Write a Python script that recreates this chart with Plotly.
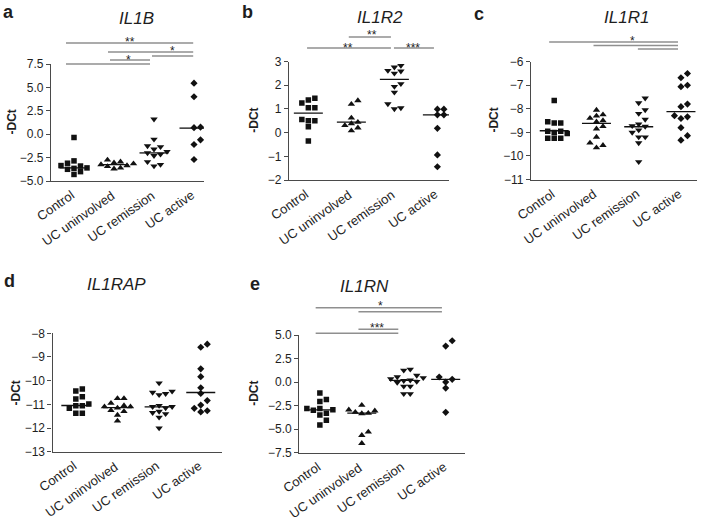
import plotly.graph_objects as go

W, H = 704, 524
FONT = "Liberation Sans, Arial, sans-serif"

CATEGORIES = ["Control", "UC uninvolved", "UC remission", "UC active"]

# ---- data (-DCt values) ----
IL1B_CONTROL = [-0.35, -2.85, -3.1, -3.35, -3.4, -3.6, -3.65, -3.75, -4.0, -4.3]
IL1B_UNINV = [-2.75, -2.95, -3.05, -3.15, -3.25, -3.35, -3.45, -3.6, -3.7]
IL1B_REM = [1.6, -0.55, -1.25, -1.35, -1.6, -1.85, -2.0, -2.15, -2.3, -2.95, -3.25, -3.4]
IL1B_ACTIVE = [5.45, 4.0, 0.7, 0.75, -0.6, -1.1, -2.7]
IL1B_MEDIANS = [-3.6, -3.25, -2.0, 0.65]

IL1R2_CONTROL = [1.45, 1.38, 1.25, 1.05, 1.05, 0.55, 0.5, 0.5, 0.25, -0.35]
IL1R2_UNINV = [1.35, 1.2, 0.62, 0.44, 0.38, 0.3, 0.2, 0.08]
IL1R2_REM = [2.83, 2.76, 2.62, 2.59, 2.5, 2.06, 1.94, 1.7, 1.21, 1.04, 1.0]
IL1R2_ACTIVE = [0.99, 0.99, 0.75, 0.75, 0.18, -0.94, -1.44]
IL1R2_MEDIANS = [0.82, 0.44, 2.25, 0.75]

IL1R1_CONTROL = [-7.65, -8.55, -8.6, -8.6, -8.95, -8.95, -9.0, -9.05, -9.25, -9.25, -9.25]
IL1R1_UNINV = [-8.05, -8.25, -8.3, -8.4, -8.5, -8.55, -8.75, -8.85, -9.2, -9.45, -9.55, -9.65]
IL1R1_REM = [-7.55, -7.75, -8.05, -8.2, -8.45, -8.65, -8.72, -8.75, -8.9, -9.0, -9.2, -9.2, -9.45, -10.25]
IL1R1_ACTIVE = [-6.5, -6.68, -7.0, -7.06, -7.8, -7.91, -8.29, -8.34, -8.41, -8.8, -9.14, -9.33]
IL1R1_MEDIANS = [-8.93, -8.62, -8.76, -8.12]

IL1RAP_CONTROL = [-10.35, -10.44, -10.68, -10.77, -10.99, -11.06, -11.06, -11.17, -11.38, -11.38]
IL1RAP_UNINV = [-10.75, -10.75, -10.95, -11.05, -11.1, -11.1, -11.15, -11.25, -11.3, -11.45, -11.7]
IL1RAP_REM = [-10.1, -10.45, -10.5, -10.55, -10.6, -11.05, -11.1, -11.1, -11.15, -11.3, -11.35, -11.4, -11.55, -12.0]
IL1RAP_ACTIVE = [-8.46, -8.59, -9.5, -9.83, -10.3, -10.54, -10.84, -11.03, -11.17, -11.27, -11.32]
IL1RAP_MEDIANS = [-11.05, -11.14, -11.11, -10.5]

IL1RN_CONTROL = [-1.15, -1.85, -2.05, -2.8, -2.8, -2.95, -3.0, -3.3, -3.5, -4.05, -4.55]
IL1RN_UNINV = [-2.45, -2.95, -3.05, -3.2, -3.3, -3.35, -5.3, -5.65, -6.5]
IL1RN_REM = [1.35, 1.25, 0.7, 0.55, 0.45, 0.35, 0.2, 0.15, 0.05, -0.05, -0.45, -0.45, -1.25, -1.25]
IL1RN_ACTIVE = [4.39, 3.82, 0.54, 0.29, 0.0, -0.64, -3.21]
IL1RN_MEDIANS = [-2.96, -3.29, 0.18, 0.29]

# significance brackets: (from category, to category, pixels above plot top)
IL1B_SIG = [(-0.2, 2.98, 21), (0.85, 2.98, 12), (1.95, 2.98, 8), (0.9, 1.9, 4), (-0.2, 1.9, 0)]
IL1B_STARS = [("**", 1.4, 26), ("*", 2.45, 17), ("*", 1.35, 8)]
IL1R2_SIG = [(0.94, 1.92, 24.5), (-0.03, 1.92, 13.5), (1.99, 2.92, 13.5)]
IL1R2_STARS = [("**", 1.48, 30), ("**", 0.92, 18), ("***", 2.43, 18)]
IL1R1_SIG = [(-0.12, 2.93, 19.7), (0.93, 2.93, 16.2), (1.98, 2.93, 12.7)]
IL1R1_STARS = [("*", 1.86, 25)]
IL1RAP_SIG = []
IL1RAP_STARS = []
IL1RN_SIG = [(-0.1, 2.91, 27.3), (0.92, 2.91, 23.3), (0.92, 1.87, 5.7), (-0.1, 1.87, 1.7)]
IL1RN_STARS = [("*", 1.44, 33), ("***", 1.36, 11)]

# ---- panel layout (pixel boxes) ----
PANELS = [
    dict(name="IL1B", letter="a", groups=[IL1B_CONTROL, IL1B_UNINV, IL1B_REM, IL1B_ACTIVE],
         med=IL1B_MEDIANS, sig=IL1B_SIG, stars=IL1B_STARS,
         box=(51, 204, 64, 181), yr=(-5, 7.5), dt=2.5, fmt=".1f", xr=(-0.575, 3.25),
         title=(136, 18), let=(1, 12), ytitle=11),
    dict(name="IL1R2", letter="b", groups=[IL1R2_CONTROL, IL1R2_UNINV, IL1R2_REM, IL1R2_ACTIVE],
         med=IL1R2_MEDIANS, sig=IL1R2_SIG, stars=IL1R2_STARS,
         box=(289, 449, 61.5, 180), yr=(-2, 3), dt=1, fmt="d", xr=(-0.45, 3.27),
         title=(380, 17), let=(240, 12), ytitle=254),
    dict(name="IL1R1", letter="c", groups=[IL1R1_CONTROL, IL1R1_UNINV, IL1R1_REM, IL1R1_ACTIVE],
         med=IL1R1_MEDIANS, sig=IL1R1_SIG, stars=IL1R1_STARS,
         box=(531, 697, 61.7, 179.5), yr=(-11, -6), dt=1, fmt="d", xr=(-0.55, 3.38),
         title=(626, 17), let=(472, 14), ytitle=494),
    dict(name="IL1RAP", letter="d", groups=[IL1RAP_CONTROL, IL1RAP_UNINV, IL1RAP_REM, IL1RAP_ACTIVE],
         med=IL1RAP_MEDIANS, sig=IL1RAP_SIG, stars=IL1RAP_STARS,
         box=(52.5, 222, 333.3, 451.7), yr=(-13, -8), dt=1, fmt="d", xr=(-0.56, 3.51),
         title=(116, 284), let=(2, 281), ytitle=15),
    dict(name="IL1RN", letter="e", groups=[IL1RN_CONTROL, IL1RN_UNINV, IL1RN_REM, IL1RN_ACTIVE],
         med=IL1RN_MEDIANS, sig=IL1RN_SIG, stars=IL1RN_STARS,
         box=(299.3, 465, 335, 452.7), yr=(-7.5, 5), dt=2.5, fmt=".1f", xr=(-0.49, 3.46),
         title=(364, 286), let=(248, 284), ytitle=254),
]

SYMBOLS = ["square", "triangle-up", "triangle-down", "diamond"]
SIZES = [5.5, 6.5, 6.5, 5.5]
AX = "#4a4a4a"
TXT = "#1e1e1e"


def px_x(v):
    return v / W


def px_y(v):
    return 1 - v / H


def swarm(values, ppx, ppy, d=6.5):
    """Deterministic beeswarm: horizontal offsets (data units) so markers don't overlap."""
    order = sorted(range(len(values)), key=lambda i: values[i])
    placed = []
    offs = [0.0] * len(values)
    cands = [0.0] + [s * j * d for j in range(1, 12) for s in (1, -1)]
    for i in order:
        yp = values[i] * ppy
        chosen = 0.0
        for c in cands:
            if all((c - a) ** 2 + (yp - b) ** 2 >= (0.85 * d) ** 2 for a, b in placed):
                chosen = c
                break
        placed.append((chosen, yp))
        offs[i] = chosen / ppx
    return offs


fig = go.Figure()
shapes, annotations = [], []

for k, p in enumerate(PANELS):
    n = "" if k == 0 else str(k + 1)
    x0, x1, yt, yb = p["box"]
    ppx = (x1 - x0) / (p["xr"][1] - p["xr"][0])
    ppy = (yb - yt) / (p["yr"][1] - p["yr"][0])

    for g, vals in enumerate(p["groups"]):
        offs = swarm(vals, ppx, ppy)
        fig.add_trace(go.Scatter(
            x=[g + o for o in offs], y=vals, mode="markers",
            marker=dict(symbol=SYMBOLS[g], size=SIZES[g], color="#111111", line=dict(width=0)),
            xaxis="x" + n, yaxis="y" + n, showlegend=False, hoverinfo="y"))
        half = 14.5 / ppx
        fig.add_trace(go.Scatter(
            x=[g - half, g + half], y=[p["med"][g]] * 2, mode="lines",
            line=dict(color="#111111", width=1.3),
            xaxis="x" + n, yaxis="y" + n, showlegend=False, hoverinfo="skip"))

    fig.layout["xaxis" + n] = dict(
        domain=[px_x(x0), px_x(x1)], range=list(p["xr"]), anchor="y" + n,
        tickmode="array", tickvals=[0, 1, 2, 3], showticklabels=False,
        showline=True, linecolor=AX, linewidth=1.2, ticks="", showgrid=False, zeroline=False,
        automargin=False, fixedrange=True)
    fig.layout["yaxis" + n] = dict(
        domain=[px_y(yb), px_y(yt)], range=list(p["yr"]), anchor="x" + n,
        tick0=p["yr"][0], dtick=p["dt"], tickformat=p["fmt"],
        showline=True, linecolor=AX, linewidth=1.2, ticks="outside", ticklen=4,
        tickcolor=AX, tickwidth=1.2, showgrid=False, zeroline=False, automargin=False,
        tickfont=dict(family=FONT, size=12, color=TXT), fixedrange=True)

    def cat_px(c):
        return x0 + (c - p["xr"][0]) * ppx

    # rotated category labels
    for g, cat in enumerate(CATEGORIES):
        annotations.append(dict(text=cat, xref="paper", yref="paper",
                                x=px_x(cat_px(g) + 6), y=px_y(yb + 4), textangle=-35,
                                xanchor="right", yanchor="top", showarrow=False,
                                font=dict(family=FONT, size=13, color=TXT)))

    for a, b, dy in p["sig"]:
        yy = px_y(yt - dy)
        shapes.append(dict(type="line", xref="paper", yref="paper",
                           x0=px_x(cat_px(a)), x1=px_x(cat_px(b)), y0=yy, y1=yy,
                           line=dict(color="#8f8f8f", width=1.6)))
    for s, c, dy in p["stars"]:
        annotations.append(dict(text=s, xref="paper", yref="paper", x=px_x(cat_px(c)),
                                y=px_y(yt - dy + 4), xanchor="center", yanchor="middle",
                                showarrow=False, font=dict(family=FONT, size=12, color=TXT)))

    annotations.append(dict(text="<i>" + p["name"] + "</i>", xref="paper", yref="paper",
                            x=px_x(p["title"][0]), y=px_y(p["title"][1]),
                            xanchor="center", yanchor="middle", showarrow=False,
                            font=dict(family=FONT, size=17, color=TXT)))
    annotations.append(dict(text="<b>" + p["letter"] + "</b>", xref="paper", yref="paper",
                            x=px_x(p["let"][0]), y=px_y(p["let"][1]),
                            xanchor="left", yanchor="middle", showarrow=False,
                            font=dict(family=FONT, size=18, color=TXT)))
    annotations.append(dict(text="<b>-DCt</b>", xref="paper", yref="paper",
                            x=px_x(p["ytitle"]), y=px_y((yt + yb) / 2), textangle=-90,
                            xanchor="center", yanchor="middle", showarrow=False,
                            font=dict(family=FONT, size=12, color=TXT)))

fig.update_layout(template="none", width=W, height=H, margin=dict(l=0, r=0, t=0, b=0, pad=0),
                  paper_bgcolor="white", plot_bgcolor="white",
                  shapes=shapes, annotations=annotations, showlegend=False)

# remove the browser's default 8px page margin so the figure sits at the window origin
fig.write_html("out.html", config={"displayModeBar": False},
               post_script="document.body.style.margin='0px';")
